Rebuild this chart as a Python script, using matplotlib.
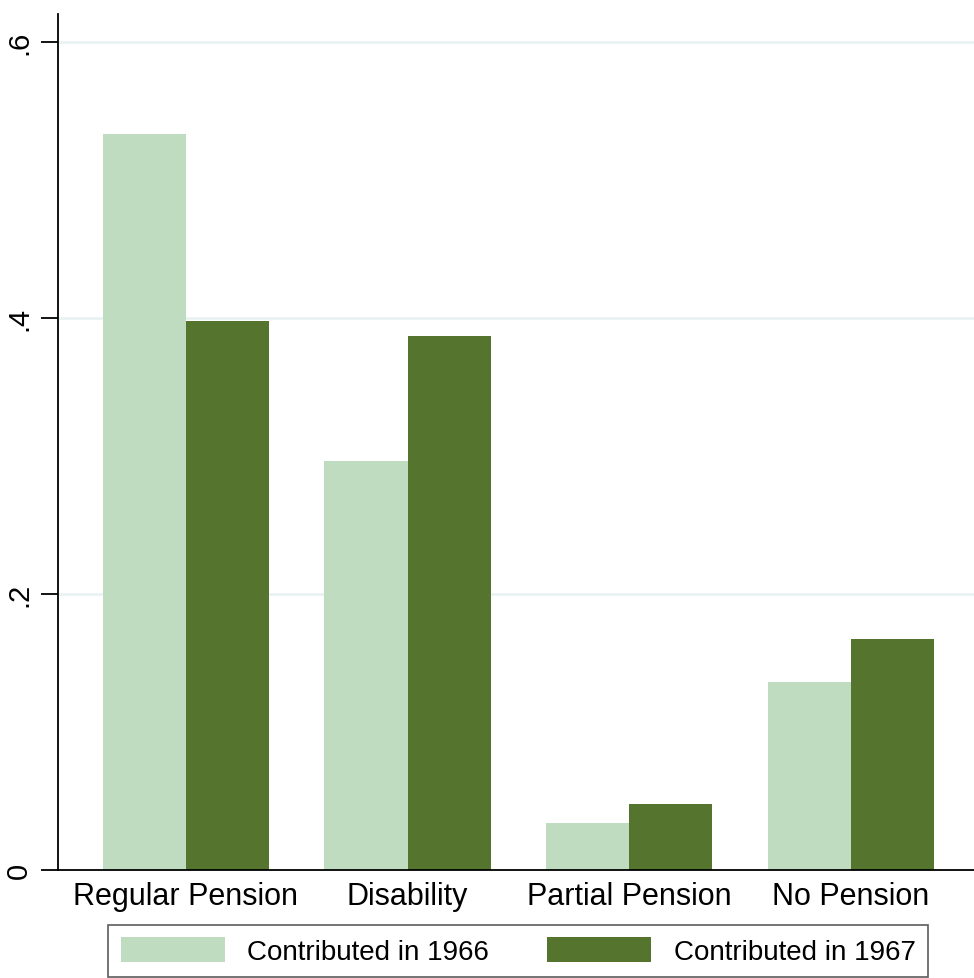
import numpy as np
import matplotlib
matplotlib.use('Agg')
import matplotlib.pyplot as plt

plt.rcParams['font.family'] = ['Liberation Sans', 'DejaVu Sans']

# data
categories = ['Regular Pension', 'Disability', 'Partial Pension', 'No Pension']
share_1966 = [0.533, 0.296, 0.034, 0.136]
share_1967 = [0.398, 0.387, 0.048, 0.167]
series_labels = ['Contributed in 1966', 'Contributed in 1967']
yticks = [0, 0.2, 0.4, 0.6]
ytick_labels = ['0', '.2', '.4', '.6']

light = '#c0dcc0'
dark = '#55752f'

fig = plt.figure(figsize=(9.74, 9.79), dpi=100)
ax = fig.add_axes([58/974, 108/979, 1 - 58/974, (871 - 15)/979])

x = np.arange(len(categories))
w = 0.375
b1 = ax.bar(x - w/2, share_1966, width=w, color=light, label=series_labels[0], zorder=2)
b2 = ax.bar(x + w/2, share_1967, width=w, color=dark, label=series_labels[1], zorder=2)

ax.set_xlim(-0.577, 3.555)
ax.set_ylim(0, 0.62)
ax.set_yticks(yticks)
ax.set_yticklabels(ytick_labels, rotation=90, va='center', fontsize=21)
ax.set_xticks(x)
ax.set_xticklabels(categories, fontsize=22)
ax.tick_params(axis='x', length=0, pad=8)
ax.tick_params(axis='y', length=12, width=1.3, pad=6)

for v in yticks[1:]:
    ax.axhline(v, color='#eaf2f3', lw=2, zorder=1)

for s in ['top', 'right']:
    ax.spines[s].set_visible(False)
ax.spines['left'].set_linewidth(1.3)
ax.spines['bottom'].set_linewidth(1.3)

leg = fig.legend(handles=[b1, b2], labels=series_labels, loc='center',
                 bbox_to_anchor=(518/974, 27/979), ncol=2, fontsize=20,
                 frameon=True, fancybox=False, edgecolor='#333333',
                 handlelength=3.75, handleheight=1.0, columnspacing=2.1,
                 handletextpad=0.8, borderpad=0.45, borderaxespad=0)
leg.get_frame().set_linewidth(1.2)

fig.savefig('out.png', dpi=100)
